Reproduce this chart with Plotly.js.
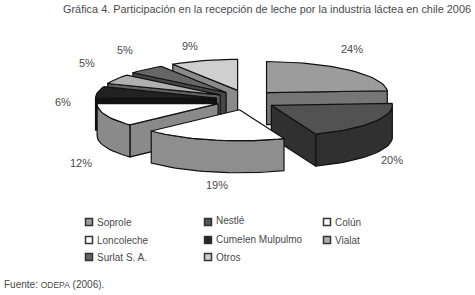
<!DOCTYPE html>
<html><head><meta charset="utf-8">
<script src="https://cdn.plot.ly/plotly-3.0.1.min.js"></script>
<style>html,body{margin:0;padding:0;background:#fff}#c{width:475px;height:295px}</style></head>
<body><div id="c"></div>
<script>
const categories = ["Soprole","Nestlé","Colún","Loncoleche","Cumelen Mulpulmo","Vialat","Surlat S. A.","Otros"];
const shares = [24,20,19,12,6,5,5,9];
const percentLabels = ["24%","20%","19%","12%","6%","5%","5%","9%"];
const topColors = ["#9c9c9c","#525252","#ffffff","#ffffff","#222222","#b0b0b0","#666666","#cfcfcf"];
const sideColors = ["#767676","#303030","#8e8e8e","#8a8a8a","#111111","#606060","#474747","#8a8a8a"];
const labelX = [352,392,217,81,63,87,125,190];
const labelY = [49,160,185,163,102,63,50,46];
const legendX = [89,208,327,89,208,327,89,208];
const legendY = [222,222,222,240,240,240,257,257];
const legendDy = [0,-2,0,0,-1,0,0,0];

const CX=246, CY=100, RX=121, RY=31, DEPTH=32, EX=30, EY=10;
const D2R=Math.PI/180;
const ink="#4a4a4a";
let cum=0;
const slices=shares.map((v,i)=>{const a0=cum*3.6,a1=(cum+v)*3.6;cum+=v;
  const m=(a0+a1)/2*D2R;
  return {i,a0,a1,ax:CX+EX*Math.sin(m),ay:CY-EY*Math.cos(m)};});
function pt(s,a,dz){return [s.ax+RX*Math.sin(a*D2R), s.ay-RY*Math.cos(a*D2R)+(dz||0)];}
function poly(xy,color){const p=xy.concat([xy[0]]);
  return {type:"scatter",mode:"lines",x:p.map(q=>q[0]),y:p.map(q=>q[1]),fill:"toself",fillcolor:color,
    line:{color:"#111",width:1.2},hoverinfo:"skip",showlegend:false};}
function arc(s,a,b,dz){const o=[];const n=Math.max(2,Math.ceil(Math.abs(b-a)/3));
  for(let k=0;k<=n;k++)o.push(pt(s,a+(b-a)*k/n,dz));return o;}
const traces=[];
[0,7,6,5,4,1,3,2].forEach(idx=>{
  const s=slices[idx], side=sideColors[idx];
  if(Math.sin(s.a0*D2R)<-1e-6){
    traces.push(poly([[s.ax,s.ay],pt(s,s.a0),pt(s,s.a0,DEPTH),[s.ax,s.ay+DEPTH]],side));
  }
  if(Math.sin(s.a1*D2R)>1e-6){
    traces.push(poly([[s.ax,s.ay],pt(s,s.a1),pt(s,s.a1,DEPTH),[s.ax,s.ay+DEPTH]],side));
  }
  const f0=Math.max(s.a0,90), f1=Math.min(s.a1,270);
  if(f1>f0){
    traces.push(poly(arc(s,f0,f1,0).concat(arc(s,f1,f0,DEPTH)),side));
  }
  traces.push(poly([[s.ax,s.ay]].concat(arc(s,s.a0,s.a1,0)),topColors[idx]));
});
traces.push({type:"scatter",mode:"markers",x:legendX,y:legendY,
  marker:{symbol:"square",size:7,color:topColors,line:{color:"#333",width:1.5}},hoverinfo:"skip",showlegend:false});

const font=(s)=>({family:"Liberation Sans, Arial, sans-serif",size:s,color:ink});
const annotations=[];
percentLabels.forEach((t,i)=>annotations.push({x:labelX[i],y:labelY[i],text:t,showarrow:false,font:font(11),xanchor:"center",yanchor:"middle"}));
categories.forEach((t,i)=>annotations.push({x:legendX[i]+6,y:legendY[i]+legendDy[i],text:t,showarrow:false,font:font(10),xanchor:"left",yanchor:"middle"}));
annotations.push({x:61,y:9,text:"Gráfica 4. Participación en la recepción de leche por la industria láctea en chile 2006",showarrow:false,font:font(10.9),xanchor:"left",yanchor:"middle"});
annotations.push({x:2,y:284,text:"Fuente: <span style=\"font-size:8.5px\">ODEPA</span> (2006).",showarrow:false,font:font(10),xanchor:"left",yanchor:"middle"});

Plotly.newPlot("c",traces,{
  width:475,height:295,margin:{l:0,r:0,t:0,b:0},paper_bgcolor:"#fff",plot_bgcolor:"#fff",
  xaxis:{range:[0,475],visible:false,fixedrange:true},
  yaxis:{range:[295,0],visible:false,fixedrange:true},
  annotations,showlegend:false
},{displayModeBar:false,staticPlot:true});
</script></body></html>
